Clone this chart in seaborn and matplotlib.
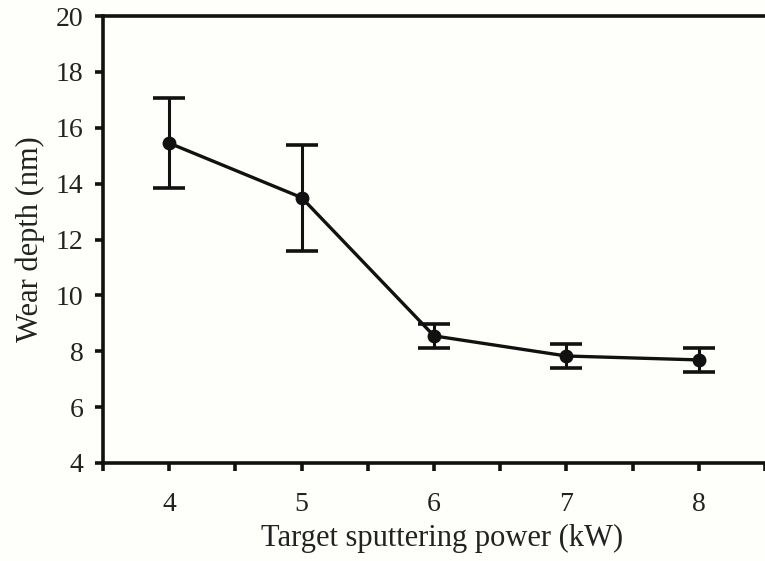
import matplotlib
matplotlib.use("Agg")
import matplotlib.pyplot as plt
import seaborn as sns
import pandas as pd
from matplotlib.ticker import FixedLocator, FuncFormatter

power = [4, 5, 6, 7, 8]
wear_depth = [15.45, 13.5, 8.55, 7.83, 7.69]
wear_err = [1.6, 1.9, 0.42, 0.43, 0.43]
y_ticks = [4, 6, 8, 10, 12, 14, 16, 18, 20]

sns.set_theme(style="ticks")
plt.rcParams['font.family'] = ['Liberation Serif', 'DejaVu Serif']

df = pd.DataFrame({"power": power, "depth": wear_depth, "err": wear_err})

fig = plt.figure(figsize=(7.65, 5.61), dpi=100)
fig.patch.set_facecolor("#fefefb")
ax = fig.add_axes([103/765, 1-463/561, 1-103/765 + 0.02, (463-16)/561])
ax.set_facecolor("#fefefb")

ax.errorbar(df["power"], df["depth"], yerr=df["err"], fmt="none",
            ecolor="#111111", elinewidth=2.2, capsize=11.5, capthick=2.6, zorder=2)
sns.lineplot(data=df, x="power", y="depth", ax=ax, color="#111111",
             linewidth=2.4, marker="o", markersize=10, markeredgewidth=0,
             zorder=3)

ax.set_xlim(3.5, 8.5 + 0.02*(8.5-3.5)/(1-103/765))
ax.set_ylim(4, 20)
ax.set_yticks(y_ticks)
ax.xaxis.set_major_locator(FixedLocator([3.5, 4, 4.5, 5, 5.5, 6, 6.5, 7, 7.5, 8, 8.5]))
ax.xaxis.set_major_formatter(FuncFormatter(lambda v, p: f"{int(v)}" if abs(v - round(v)) < 1e-6 else ""))

for s in ["left", "bottom", "top"]:
    ax.spines[s].set_linewidth(2.6)
    ax.spines[s].set_color("#111111")
ax.spines["right"].set_visible(False)
ax.tick_params(axis="both", direction="out", length=6, width=2.6, color="#111111",
               labelsize=20, labelcolor="#222222")
ax.tick_params(axis="x", pad=15)
ax.tick_params(axis="y", pad=8)

ax.set_xlabel("Target sputtering power (kW)", fontsize=22, color="#222222", labelpad=5)
ax.set_ylabel("Wear depth (nm)", fontsize=22, color="#222222", labelpad=8)

fig.savefig("out.png", dpi=100, facecolor=fig.get_facecolor())
